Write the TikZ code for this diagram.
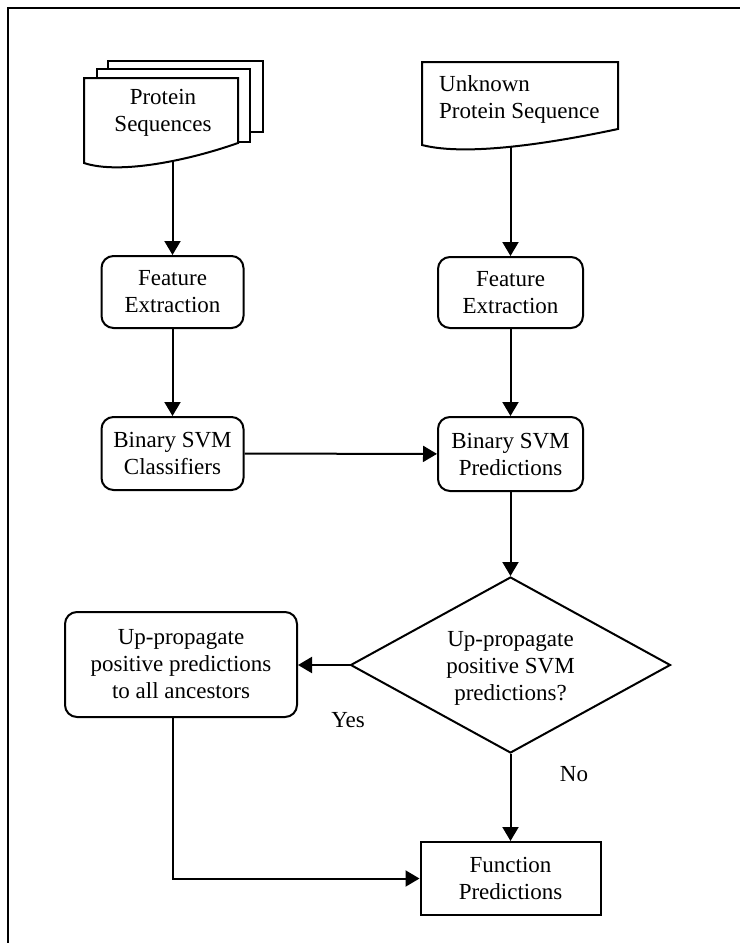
\documentclass[tikz,border=0pt]{standalone}
\usepackage{fontspec}
\setmainfont{Liberation Serif}
\usetikzlibrary{shapes.geometric,arrows.meta}

\begin{document}
\begin{tikzpicture}[x=1pt,y=-1pt,
  every node/.style={font=\fontsize{23}{27}\selectfont},
  procbox/.style={draw,line width=2pt,rounded corners=12pt,align=center,inner sep=0pt},
  plainbox/.style={draw,line width=2pt,align=center,inner sep=0pt},
  sheet/.style={draw,line width=2pt,fill=white},
  flow/.style={line width=2pt,-{Triangle[length=14pt,width=16pt]}},
  lbl/.style={inner sep=0pt}]

\useasboundingbox (0,0) rectangle (740,943);

% frame (top and left edges)
\draw[line width=2.5pt] (8,943) -- (8,8) -- (740,8);

% stacked input documents
\draw[sheet] (108,61) rectangle (263,132);
\draw[sheet] (97,69) rectangle (250,142);
\draw[sheet] (84,78) -- (238,78) -- (238,143)
  .. controls (190,160) and (120,175) .. (84,163) -- cycle;
\node[lbl,align=center] (pst) at (163,113) {Protein\\Sequences};
\coordinate (psb) at (172.5,161);

% single query document
\draw[sheet] (422,62) -- (618,62) -- (618,129)
  .. controls (557,142) and (468,157) .. (422,145) -- cycle;
\node[lbl,align=left,anchor=west] (upt) at (439,99.5) {Unknown\\Protein Sequence};
\coordinate (upb) at (510.5,146);

% process steps
\node[procbox,minimum width=142pt,minimum height=72pt] (fe1) at (172.5,292) {Feature\\Extraction};
\node[procbox,minimum width=142pt,minimum height=73pt] (bsc) at (172.5,453.5) {Binary SVM\\Classifiers};
\node[procbox,minimum width=145pt,minimum height=71pt] (fe2) at (510.5,292.5) {Feature\\Extraction};
\node[procbox,minimum width=145pt,minimum height=74pt] (bsp) at (510.5,454) {Binary SVM\\Predictions};

% decision
\node[draw,diamond,line width=2pt,inner sep=0pt,minimum width=320pt,minimum height=176pt] (dia) at (510.5,665) {};
\node[lbl,align=center] (diat) at (510.5,668) {Up-propagate\\positive SVM\\predictions?};

\node[procbox,minimum width=232pt,minimum height=105pt] (up) at (181,664.5)
  {Up-propagate\\positive predictions\\to all ancestors};
\node[plainbox,minimum width=180pt,minimum height=73pt] (fp) at (510.5,878.5) {Function\\Predictions};

% branch labels
\node[lbl] (yes) at (348,720.5) {Yes};
\node[lbl] (no) at (574,774.5) {No};

% connectors
\draw[flow] (psb) -- (fe1.north);
\draw[flow] (upb) -- (fe2.north);
\draw[flow] (fe1) -- (bsc);
\draw[flow] (fe2) -- (bsp);
\draw[flow] (bsc) -- (bsp);
\draw[flow] (bsp) -- (dia.north);
\draw[flow] (dia.west) -- (dia.west -| up.east);
\draw[flow] (dia.south) -- (fp.north);
\draw[flow] (up.south -| fe1) |- (fp.west);
\end{tikzpicture}
\end{document}
